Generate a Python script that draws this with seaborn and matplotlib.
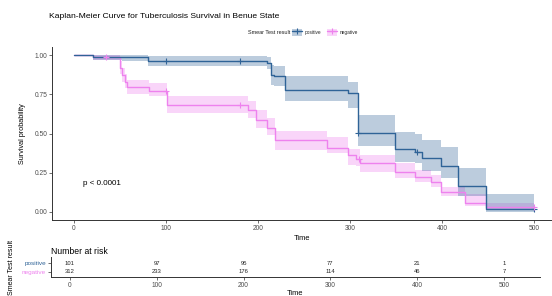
import numpy as np
import pandas as pd
import matplotlib
matplotlib.use("Agg")
import matplotlib.pyplot as plt
import seaborn as sns
from matplotlib.patches import Patch
from matplotlib.lines import Line2D

# ---------------- data ----------------
groups = ["positive", "negative"]
pos_time = [0, 21, 52.5, 80, 209.5, 214, 217, 229, 298, 309, 349, 371, 378, 399, 417, 448, 500]
pos_surv = [1.0, 0.99, 0.985, 0.96, 0.95, 0.875, 0.864, 0.78, 0.76, 0.505, 0.40, 0.385, 0.342, 0.293, 0.165, 0.02, 0.02]
pos_lower = [1.0, 0.97, 0.96, 0.93, 0.91, 0.81, 0.80, 0.705, 0.66, 0.42, 0.32, 0.31, 0.26, 0.215, 0.10, 0.003, 0.003]
pos_upper = [1.0, 1.0, 1.0, 0.995, 0.985, 0.935, 0.93, 0.864, 0.83, 0.618, 0.51, 0.50, 0.46, 0.416, 0.28, 0.115, 0.115]
pos_censor = [100, 180, 309, 373, 500]

neg_time = [0, 21, 50, 52.5, 55.5, 58, 81, 101, 189, 198, 210, 218, 275, 298, 307, 311, 349, 371, 388, 399, 425, 448, 500]
neg_surv = [1.0, 0.987, 0.917, 0.875, 0.83, 0.795, 0.773, 0.683, 0.652, 0.588, 0.535, 0.46, 0.41, 0.363, 0.335, 0.31, 0.257, 0.222, 0.19, 0.13, 0.06, 0.03, 0.03]
neg_lower = [1.0, 0.97, 0.88, 0.83, 0.79, 0.75, 0.737, 0.63, 0.60, 0.535, 0.488, 0.397, 0.374, 0.30, 0.29, 0.257, 0.215, 0.19, 0.16, 0.10, 0.035, 0.01, 0.01]
neg_upper = [1.0, 1.0, 0.96, 0.92, 0.88, 0.843, 0.82, 0.737, 0.705, 0.652, 0.60, 0.514, 0.48, 0.40, 0.40, 0.363, 0.31, 0.27, 0.235, 0.16, 0.115, 0.06, 0.06]
neg_censor = [35, 100, 180, 310, 500]

risk_times = [0, 100, 200, 300, 400, 500]
risk_pos = [101, 97, 95, 77, 21, 1]
risk_neg = [312, 233, 176, 114, 46, 7]

title = "Kaplan-Meier Curve for Tuberculosis Survival in Benue State"
legend_title = "Smear Test result"
pval_text = "p < 0.0001"
x_ticks = [0, 100, 200, 300, 400, 500]
y_ticks = [0.0, 0.25, 0.5, 0.75, 1.0]

# ---------------- style ----------------
sns.set_style("ticks")
plt.rcParams["font.family"] = ["Liberation Sans", "DejaVu Sans"]

colors = {"positive": "#2F6397", "negative": "#EE82EE"}
band_alpha = {"positive": 0.32, "negative": 0.33}
axis_col = "#333333"

W, H = 552, 296
fig = plt.figure(figsize=(W / 100, H / 100), dpi=100)


def px_axes(left, top, right, bottom):
    return fig.add_axes([left / W, 1 - bottom / H, (right - left) / W, (bottom - top) / H])


def style_axes(ax):
    for s in ["top", "right"]:
        ax.spines[s].set_visible(False)
    for s in ["left", "bottom"]:
        ax.spines[s].set_color(axis_col)
        ax.spines[s].set_linewidth(0.7)
    ax.tick_params(colors="#555555", length=2, width=0.6, labelsize=4.8, pad=1.5,
                   labelcolor="#4d4d4d")
    ax.grid(False)


# ---------------- main KM plot ----------------
ax = px_axes(52, 47, 552, 220)
ax.set_xlim((52 - 74) / 0.92, (552 - 74) / 0.92)
ax.set_ylim(-0.051, 1.051)

frames = []
for g, t, s, lo, hi in [("positive", pos_time, pos_surv, pos_lower, pos_upper),
                        ("negative", neg_time, neg_surv, neg_lower, neg_upper)]:
    frames.append(pd.DataFrame({"time": t, "surv": s, "lower": lo, "upper": hi, "group": g}))
df = pd.concat(frames, ignore_index=True)

for g in ["negative", "positive"]:
    d = df[df.group == g]
    ax.fill_between(d["time"], d["lower"], d["upper"], step="post",
                    color=colors[g], alpha=band_alpha[g], linewidth=0)

sns.lineplot(data=df, x="time", y="surv", hue="group", hue_order=["negative", "positive"],
             palette=colors, drawstyle="steps-post", linewidth=1.0, legend=False,
             estimator=None, sort=False, ax=ax)

for g, cens in [("positive", pos_censor), ("negative", neg_censor)]:
    d = df[df.group == g]
    tt = d["time"].to_numpy()
    ss = d["surv"].to_numpy()
    idx = np.searchsorted(tt, np.array(cens), side="right") - 1
    ax.plot(cens, ss[idx], linestyle="none", marker="+", markersize=4,
            markeredgewidth=0.8, color=colors[g])

style_axes(ax)
ax.set_xticks(x_ticks)
ax.set_yticks(y_ticks)
ax.set_yticklabels([f"{v:.2f}" for v in y_ticks])
ax.set_xlabel("Time", fontsize=5.4, color="black", labelpad=2)
ax.set_ylabel("Survival probability", fontsize=5.2, color="black", labelpad=6)
ax.text(10, 0.18, pval_text, fontsize=5.8, color="black", va="center", ha="left")

# ---------------- title & legend ----------------
fig.text(49 / W, 1 - 16 / H, title, fontsize=6.1, color="black", ha="left", va="center")
fig.text(290 / W, 1 - 32.5 / H, legend_title, fontsize=4.0, color="#222222", ha="right", va="center")
handles = []
for g in groups:
    handles.append((Patch(facecolor=colors[g], alpha=band_alpha[g], edgecolor="none"),
                    Line2D([0], [0], color=colors[g], linewidth=1.0, marker="+",
                           markersize=4, markeredgewidth=0.8)))
fig.legend(handles, groups, ncol=2, loc="center left",
           bbox_to_anchor=(292 / W, 1 - 32.5 / H), frameon=False, fontsize=3.4,
           handlelength=2.2, handleheight=2.2, handletextpad=0.5, columnspacing=1.2,
           borderpad=0, borderaxespad=0)

# ---------------- risk table ----------------
rax = px_axes(51, 257, 540, 277)
rax.set_xlim((51 - 70) / 0.868, (540 - 70) / 0.868)
rax.set_ylim(-0.56, 1.67)
for i, t in enumerate(risk_times):
    rax.text(t, 1, str(risk_pos[i]), ha="center", va="center", fontsize=4.2, color="#222222")
    rax.text(t, 0, str(risk_neg[i]), ha="center", va="center", fontsize=4.2, color="#222222")
style_axes(rax)
rax.set_yticks([1, 0])
rax.set_yticklabels(groups)
for lbl, g in zip(rax.get_yticklabels(), groups):
    lbl.set_color(colors[g])
    lbl.set_fontsize(4.6)
rax.set_xticks(x_ticks)
rax.set_xlabel("Time", fontsize=5.4, color="black", labelpad=1)
rax.set_title("Number at risk", fontsize=6.2, loc="left", pad=2, color="black",
              x=0.0)
rax.set_ylabel(legend_title, fontsize=5.0, color="black", labelpad=5)

fig.savefig("out.png", dpi=100)
